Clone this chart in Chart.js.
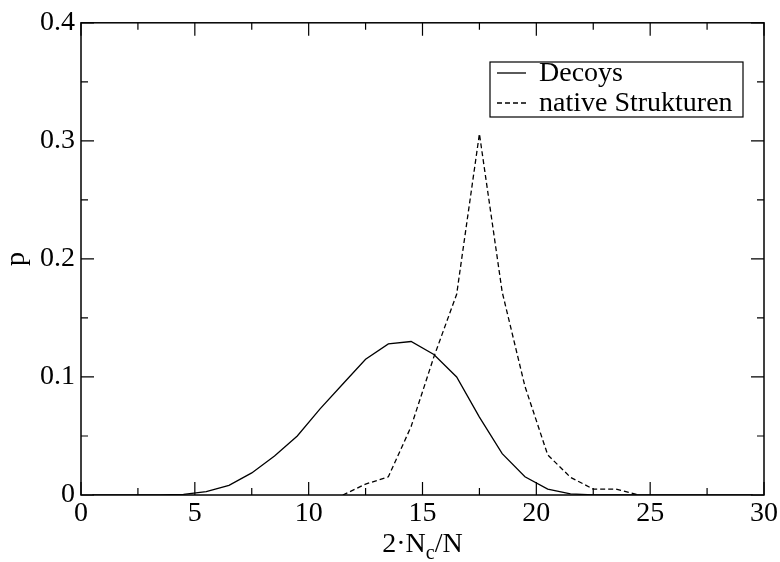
<!DOCTYPE html>
<html>
<head>
<meta charset="utf-8">
<script src="https://cdn.jsdelivr.net/npm/chart.js@4/dist/chart.umd.min.js"></script>
<style>
  html, body { margin: 0; padding: 0; background: #fff; }
  #wrap { width: 780px; height: 562px; }
</style>
</head>
<body>
<div id="wrap"><canvas id="distChart" width="780" height="562"></canvas></div>
<script>
const chartDist = document.getElementById("distChart");

// bin centres (2*Nc/N)
const decoyX = [0.5, 1.5, 2.5, 3.5, 4.5, 5.5, 6.5, 7.5, 8.5, 9.5,
  10.5, 11.5, 12.5, 13.5, 14.5, 15.5, 16.5, 17.5, 18.5, 19.5,
  20.5, 21.5, 22.5, 23.5, 24.5, 25.5, 26.5, 27.5, 28.5, 29.5];
const decoyP = [0, 0, 0, 0, 0.0005, 0.0028, 0.0082, 0.0187, 0.033, 0.050,
  0.073, 0.094, 0.115, 0.128, 0.130, 0.119, 0.100, 0.066, 0.035, 0.0155,
  0.005, 0.001, 0, 0, 0, 0, 0, 0, 0, 0];

const nativeX = [11.5, 12.5, 13.5, 14.5, 15.5, 16.5, 17.5, 18.5, 19.5, 20.5,
  21.5, 22.5, 23.5, 24.5];
const nativeP = [0, 0.0092, 0.0154, 0.058, 0.117, 0.170, 0.306, 0.172, 0.092, 0.034,
  0.015, 0.005, 0.005, 0];

const xTicks = [0, 5, 10, 15, 20, 25, 30];
const yTicks = [0, 0.1, 0.2, 0.3, 0.4];
const legendLabels = ["Decoys", "native Strukturen"];

const serif = "'Liberation Serif', 'DejaVu Serif', serif";

function toPoints(xs, ys) {
  return xs.map((x, i) => ({ x: x, y: ys[i] }));
}

// frame, inward ticks, axis titles and the legend box (xmgrace look)
const gracePlugin = {
  id: "grace",
  afterDatasetsDraw(chart) {
    const ctx = chart.ctx;
    const a = chart.chartArea;
    const sx = chart.scales.x;
    const sy = chart.scales.y;
    ctx.save();
    ctx.strokeStyle = "#000";
    ctx.lineWidth = 1.5;
    ctx.strokeRect(a.left, a.top, a.right - a.left, a.bottom - a.top);

    ctx.lineWidth = 1.2;
    function tickX(v, len) {
      const p = sx.getPixelForValue(v);
      ctx.beginPath();
      ctx.moveTo(p, a.bottom); ctx.lineTo(p, a.bottom - len);
      ctx.moveTo(p, a.top); ctx.lineTo(p, a.top + len);
      ctx.stroke();
    }
    function tickY(v, len) {
      const p = sy.getPixelForValue(v);
      ctx.beginPath();
      ctx.moveTo(a.left, p); ctx.lineTo(a.left + len, p);
      ctx.moveTo(a.right, p); ctx.lineTo(a.right - len, p);
      ctx.stroke();
    }
    xTicks.forEach((v, i) => {
      tickX(v, 13);
      if (i < xTicks.length - 1) tickX((v + xTicks[i + 1]) / 2, 7);
    });
    yTicks.forEach((v, i) => {
      tickY(v, 13);
      if (i < yTicks.length - 1) tickY((v + yTicks[i + 1]) / 2, 7);
    });

    // axis titles
    ctx.fillStyle = "#000";
    ctx.textBaseline = "alphabetic";
    ctx.font = "28px " + serif;
    const t1 = "2\u00b7N", t2 = "c", t3 = "/N";
    const w1 = ctx.measureText(t1).width;
    const w3 = ctx.measureText(t3).width;
    ctx.font = "20px " + serif;
    const w2 = ctx.measureText(t2).width;
    const cx = (a.left + a.right) / 2;
    let x0 = cx - (w1 + w2 + w3) / 2;
    const base = 552;
    ctx.font = "28px " + serif;
    ctx.fillText(t1, x0, base);
    ctx.font = "20px " + serif;
    ctx.fillText(t2, x0 + w1, base + 7);
    ctx.font = "28px " + serif;
    ctx.fillText(t3, x0 + w1 + w2, base);

    ctx.save();
    ctx.translate(24, (a.top + a.bottom) / 2);
    ctx.rotate(-Math.PI / 2);
    ctx.textAlign = "center";
    ctx.fillText("p", 0, 0);
    ctx.restore();

    // legend
    const bx = 490, by = 62, bw = 253, bh = 55;
    ctx.fillStyle = "#fff";
    ctx.fillRect(bx, by, bw, bh);
    ctx.lineWidth = 1.2;
    ctx.strokeRect(bx, by, bw, bh);
    ctx.fillStyle = "#000";
    ctx.font = "28px " + serif;
    chart.data.datasets.forEach((ds, i) => {
      const ly = by + 11 + i * 30;
      ctx.beginPath();
      ctx.setLineDash(ds.borderDash || []);
      ctx.lineWidth = 1.3;
      ctx.moveTo(bx + 7, ly); ctx.lineTo(bx + 36, ly);
      ctx.stroke();
      ctx.setLineDash([]);
      ctx.fillText(legendLabels[i], bx + 49, ly + 8);
    });
    ctx.restore();
  }
};

new Chart(chartDist, {
  type: "line",
  plugins: [gracePlugin],
  data: {
    datasets: [
      {
        label: legendLabels[0],
        data: toPoints(decoyX, decoyP),
        borderColor: "#000",
        borderWidth: 1.3,
        pointRadius: 0,
        tension: 0,
        fill: false,
      },
      {
        label: legendLabels[1],
        data: toPoints(nativeX, nativeP),
        borderColor: "#000",
        borderWidth: 1.3,
        borderDash: [5, 3],
        pointRadius: 0,
        tension: 0,
        fill: false,
      },
    ],
  },
  options: {
    responsive: false,
    animation: false,
    layout: { padding: { left: 0, right: 14, top: 18, bottom: 0 } },
    scales: {
      x: {
        type: "linear",
        min: 0,
        max: 30,
        afterBuildTicks: (scale) => { scale.ticks = xTicks.map((v) => ({ value: v })); },
        afterFit: (scale) => { scale.height = 67; },
        grid: { display: false, drawTicks: false },
        border: { display: false },
        ticks: {
          color: "#000",
          padding: 2,
          font: { family: serif, size: 28 },
          maxRotation: 0,
        },
      },
      y: {
        type: "linear",
        min: 0,
        max: 0.4,
        afterBuildTicks: (scale) => { scale.ticks = yTicks.map((v) => ({ value: v })); },
        afterFit: (scale) => { scale.width = 81; },
        grid: { display: false, drawTicks: false },
        border: { display: false },
        ticks: {
          color: "#000",
          padding: 6,
          font: { family: serif, size: 28 },
          callback: (v) => String(Math.round(v * 10) / 10),
        },
      },
    },
    plugins: {
      legend: { display: false },
      tooltip: { enabled: false },
    },
  },
});
</script>
</body>
</html>
